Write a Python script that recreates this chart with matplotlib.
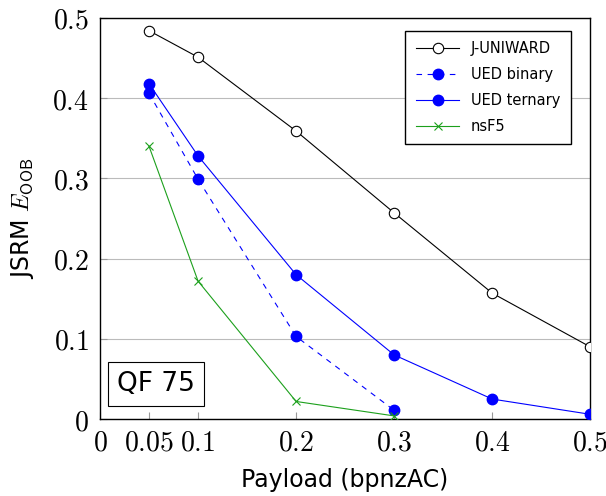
import numpy as np
import matplotlib
matplotlib.use('Agg')
import matplotlib.pyplot as plt

plt.rcParams['mathtext.fontset'] = 'cm'
plt.rcParams['font.family'] = 'DejaVu Sans'

payload = [0.05, 0.1, 0.2, 0.3, 0.4, 0.5]
juniward = [0.484, 0.451, 0.359, 0.257, 0.157, 0.090]
ued_binary = [0.406, 0.299, 0.103, 0.011]
ued_ternary = [0.418, 0.328, 0.180, 0.080, 0.025, 0.006]
nsf5 = [0.340, 0.172, 0.022, 0.004]

xticks = [0, 0.05, 0.1, 0.2, 0.3, 0.4, 0.5]
xtick_labels = ['$0$', '$0.05$', '$0.1$', '$0.2$', '$0.3$', '$0.4$', '$0.5$']
yticks = [0, 0.1, 0.2, 0.3, 0.4, 0.5]
ytick_labels = ['$0$', '$0.1$', '$0.2$', '$0.3$', '$0.4$', '$0.5$']

fig = plt.figure(figsize=(6.06, 4.96), dpi=100)
ax = fig.add_axes([0.165, 0.155, 0.809, 0.809])

ax.plot(payload, juniward, color='black', lw=0.8, marker='o', ms=7.5,
        mfc='white', mec='black', mew=0.8, label='J-UNIWARD', zorder=3)
ax.plot(payload[:4], ued_binary, color='blue', lw=0.8, ls=(0, (5, 5)), marker='o', ms=7.5,
        mfc='blue', mec='blue', label='UED binary', zorder=3)
ax.plot(payload, ued_ternary, color='blue', lw=0.8, marker='o', ms=7.5,
        mfc='blue', mec='blue', label='UED ternary', zorder=3)
ax.plot(payload[:4], nsf5, color='#1ca01c', lw=0.8, marker='x', ms=6,
        mew=0.8, label='nsF5', zorder=3)

ax.set_xlim(0, 0.5)
ax.set_ylim(0, 0.5)
ax.set_xticks(xticks)
ax.set_xticklabels(xtick_labels, fontsize=20)
ax.set_yticks(yticks)
ax.set_yticklabels(ytick_labels, fontsize=20)
ax.tick_params(axis='both', direction='in', length=5, color='#999999')
ax.tick_params(axis='x', pad=7)
ax.tick_params(axis='y', pad=8)
ax.grid(axis='y', color='#bbbbbb', lw=0.8)
for s in ax.spines.values():
    s.set_linewidth(1.0)

ax.set_xlabel('Payload (bpnzAC)', fontsize=17, labelpad=8)
ax.set_ylabel(r'JSRM $E_{\mathsf{OOB}}$', fontsize=17, labelpad=12)

ax.legend(loc='upper right', fontsize=10.5, fancybox=False, edgecolor='black',
          framealpha=1, handlelength=3, borderpad=0.7, labelspacing=0.75,
          bbox_to_anchor=(0.975, 0.985))

ax.text(0.035, 0.055, 'QF 75', transform=ax.transAxes, fontsize=19,
        ha='left', va='bottom',
        bbox=dict(boxstyle='square,pad=0.35', fc='white', ec='black', lw=0.8))

fig.savefig('out.png', dpi=100)
